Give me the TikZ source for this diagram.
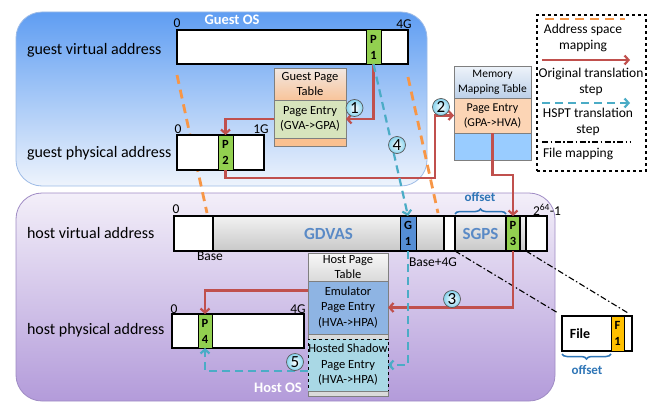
\documentclass[tikz,border=0pt]{standalone}
\usepackage{fontspec}
\setmainfont{Carlito}
\usetikzlibrary{arrows.meta,decorations.pathreplacing,calc}

\definecolor{redln}{HTML}{C0504D}
\definecolor{tealln}{HTML}{4BACC6}
\definecolor{orangeln}{HTML}{F79646}
\definecolor{pgreen}{HTML}{92D050}
\definecolor{gblue}{HTML}{558ED5}
\definecolor{gdtext}{HTML}{5A8AC6}
\definecolor{offblue}{HTML}{2E75B6}
\definecolor{fyellow}{HTML}{FFC000}
\definecolor{gosTop}{HTML}{5F9DF2}
\definecolor{gosBot}{HTML}{EEF4FC}
\definecolor{gosLine}{HTML}{9DBBE6}
\definecolor{hosTop}{HTML}{F3EFF9}
\definecolor{hosBot}{HTML}{B39BDA}
\definecolor{hosLine}{HTML}{9F8BC4}
\definecolor{peachTop}{HTML}{F2E8E2}
\definecolor{peachBot}{HTML}{F8C49A}
\definecolor{entrygreen}{HTML}{D7E4BD}
\definecolor{stripOrange}{HTML}{FAC090}
\definecolor{mmtTop}{HTML}{EEF3FA}
\definecolor{mmtBot}{HTML}{BCD0E8}
\definecolor{mmtEntry}{HTML}{FCD5B5}
\definecolor{mmtFoot}{HTML}{99CCFF}
\definecolor{hptTop}{HTML}{F7F7F7}
\definecolor{hptBot}{HTML}{DADADA}
\definecolor{emulBlue}{HTML}{8EB4E3}
\definecolor{shadowTeal}{HTML}{A9D8E5}
\definecolor{tblline}{HTML}{7F7F7F}
\definecolor{segTop}{HTML}{F2F2F2}
\definecolor{segBot}{HTML}{C8C8C8}
\definecolor{numcyan}{HTML}{86D3EE}

\begin{document}
\begin{tikzpicture}[x=1pt,y=-1pt,
  every node/.style={inner sep=0pt, outer sep=0pt},
  nw/.style 2 args={anchor=north west, minimum width=#1pt, minimum height=#2pt},
  region/.style={rounded corners=26pt, line width=0.8pt},
  ostitle/.style={text=white, font=\bfseries\fontsize{14.5}{16}\selectfont},
  barbox/.style={draw=black, line width=1.5pt, fill=white},
  greyseg/.style={draw=black, line width=1.2pt, top color=segTop, bottom color=segBot},
  pcell/.style={draw=black, line width=1pt, fill=pgreen, align=center,
    font=\bfseries\fontsize{12.5}{16}\selectfont},
  tblpart/.style={draw=tblline, line width=0.8pt, align=center,
    font=\fontsize{12.5}{15}\selectfont},
  rowlabel/.style={anchor=base west, font=\fontsize{16}{18}\selectfont},
  tick/.style={font=\fontsize{13.5}{15}\selectfont},
  stepnum/.style={circle, draw=black!65, line width=0.7pt, minimum size=17pt,
    inner color=white, outer color=numcyan, font=\fontsize{17}{17}\selectfont},
  redarrow/.style={draw=redln, line width=2.2pt,
    -{Straight Barb[length=4pt,width=9pt]}},
  tealarrow/.style={draw=tealln, line width=2.2pt, dash pattern=on 8pt off 5pt,
    -{Straight Barb[length=4pt,width=9pt]}},
  addrmap/.style={draw=orangeln, line width=2.8pt, dash pattern=on 9pt off 6pt},
  filemap/.style={draw=black, line width=1.1pt,
    dash pattern=on 6pt off 2.5pt on 1.5pt off 2.5pt},
  offsetbrace/.style={draw=offblue, line width=1.5pt, decorate,
    decoration={brace, amplitude=5pt}},
  offsetlabel/.style={text=offblue, font=\bfseries\fontsize{13}{14}\selectfont},
  legendtext/.style={align=center, font=\fontsize{13.5}{16.5}\selectfont}
]
\useasboundingbox (0,0) rectangle (652,404);

% ---------- operating system regions ----------
\node[region, nw={411}{174}, draw=gosLine, top color=gosTop, bottom color=gosBot]
  (guestos) at (16,12) {};
\node[region, nw={539}{208}, draw=hosLine, top color=hosTop, bottom color=hosBot]
  (hostos) at (16,193) {};
\node[ostitle] (guesttitle) at (232,20) {Guest OS};
\node[ostitle] (hosttitle) at (278,388) {Host OS};

% ---------- address space mappings (behind the bars) ----------
\coordinate (oga) at (177,75);
\coordinate (ogb) at (207,213);
\coordinate (oha) at (408,77);
\coordinate (ohb) at (438,213);
\draw[addrmap] (oga) -- (ogb);
\draw[addrmap] (oha) -- (ohb);

% ---------- guest virtual address ----------
\node[rowlabel] (lgva) at (27,55) {guest virtual address};
\node[barbox, nw={231}{34}] (gva) at (177,30) {};
\node[pcell, nw={15}{34}] (p1) at (366,30) {P\\1};
\node[tick] (gva0) at (177,23) {0};
\node[tick] (gva4g) at (404,24) {4G};

% ---------- guest physical address ----------
\node[rowlabel] (lgpa) at (27,157) {guest physical address};
\node[barbox, nw={87}{35}] (gpa) at (177,135) {};
\node[pcell, nw={15}{35}] (p2) at (218,135) {P\\2};
\node[tick] (gpa0) at (178,129) {0};
\node[tick] (gpa1g) at (261,129) {1G};

% ---------- host virtual address ----------
\node[rowlabel] (lhva) at (27,238) {host virtual address};
\node[barbox, nw={373}{35}] (hva) at (174,216) {};
\node[greyseg, nw={231}{35}, text=gdtext, font=\bfseries\fontsize{17}{20}\selectfont]
  (gdvas) at (213,216) {GDVAS};
\node[pcell, nw={16}{35}, fill=gblue] (g1) at (400,216) {G\\1};
\node[greyseg, nw={51}{35}, text=gdtext, font=\bfseries\fontsize{17}{20}\selectfont]
  (sgps) at (455,216) {SGPS};
\node[pcell, nw={14}{35}] (p3) at (506,216) {P\\3};
\node[greyseg, nw={6}{35}] (tail) at (520,216) {};
\draw[line width=1.5pt] (hva.north west) rectangle (hva.south east);
\node[tick] (hva0) at (176,209) {0};
\node[tick] (hvabase) at (210,256) {Base};
\node[tick] (hvabase4g) at (433,262) {Base+4G};
\node[tick] (hvatop) at (547,210) {2\textsuperscript{64}-1};
\draw[offsetbrace] ([yshift=2pt]sgps.north west) -- ([yshift=2pt]sgps.north east);
\node[offsetlabel] (offs1) at (480,197) {offset};

% ---------- host physical address ----------
\node[rowlabel] (lhpa) at (27,334) {host physical address};
\node[barbox, nw={132}{34}] (hpa) at (172,314) {};
\node[pcell, nw={14}{34}] (p4) at (198,314) {P\\4};
\node[tick] (hpa0) at (174,309) {0};
\node[tick] (hpa4g) at (298,309) {4G};

% ---------- guest page table ----------
\node[tblpart, nw={72}{32}, top color=peachTop, bottom color=peachBot]
  (gpthead) at (274,68) {Guest Page\\Table};
\node[tblpart, nw={72}{38}, fill=entrygreen] (gptentry) at (274,100) {Page Entry\\(GVA->GPA)};
\node[tblpart, nw={72}{8}, fill=stripOrange] (gptfoot) at (274,138) {};

% ---------- memory mapping table ----------
\node[tblpart, nw={77}{32}, top color=mmtTop, bottom color=mmtBot,
  font=\fontsize{11.5}{15}\selectfont] (mmthead) at (454,66) {Memory\\Mapping Table};
\node[tblpart, nw={77}{35}, fill=mmtEntry, font=\fontsize{12}{15}\selectfont]
  (mmtentry) at (454,98) {Page Entry\\(GPA->HVA)};
\node[tblpart, nw={77}{27}, fill=mmtFoot] (mmtfoot) at (454,133) {};

% ---------- host page table ----------
\node[tblpart, nw={80}{28}, top color=hptTop, bottom color=hptBot]
  (hpthead) at (308,253) {Host Page\\Table};
\node[tblpart, nw={80}{53}, fill=emulBlue, font=\fontsize{12.5}{15.5}\selectfont]
  (emul) at (308,281) {Emulator\\Page Entry\\(HVA->HPA)};
\node[tblpart, nw={80}{5}, fill=hptBot] (hptgap) at (308,334) {};
\node[tblpart, nw={80}{52}, fill=shadowTeal, draw=black, dashed, line width=1pt,
  font=\fontsize{12.5}{15.5}\selectfont]
  (hsp) at (308,339) {Hosted Shadow\\Page Entry\\(HVA->HPA)};
\node[tblpart, nw={80}{5}, fill=hptBot] (hptfoot) at (308,391) {};

% ---------- backing file ----------
\node[barbox, nw={70}{35}] (file) at (562,316) {};
\node[pcell, nw={13}{35}, fill=fyellow] (f1) at (611,316) {F\\1};
\node[font=\bfseries\fontsize{14}{15}\selectfont] (filetext) at (580,334) {File};
\draw[offsetbrace] ([yshift=-3pt]f1.south west) -- ([yshift=-3pt]file.south west);
\node[offsetlabel] (offs2) at (587,370) {offset};

% ---------- file mapping ----------
\draw[filemap] (sgps.south west) -- ([shift={(-4,-3)}]file.north west);
\draw[filemap] (tail.south east) -- ([shift={(-4,-3)}]file.north east);

% ---------- original translation steps ----------
\coordinate (c2) at (435,178);
\draw[redarrow] (p1.south) |- (gptentry.east);
\draw[redarrow] (gptentry.west) -| (p2.north);
\draw[redarrow] (p2.south) |- (c2) |- (mmtentry.west);
\draw[redarrow] (mmtentry.south) -- ++(0,42) -| (p3.north);
\draw[redarrow] (p3.south) |- (emul.east);
\draw[redarrow] ([yshift=17pt]emul.west) -| (p4.north);

% ---------- HSPT translation steps ----------
\draw[tealarrow] (p1.south) -- (g1.north);
\draw[tealarrow] (g1.south) |- (hsp.east);
\draw[tealarrow] ([yshift=-6pt]hsp.west) -| (p4.south);

% ---------- step numbers ----------
\node[stepnum] (s1) at (354.5,108) {1};
\node[stepnum] (s2) at (441,107) {2};
\node[stepnum] (s3) at (452,299) {3};
\node[stepnum] (s4) at (397,145) {4};
\node[stepnum] (s5) at (295,362) {5};

% ---------- legend ----------
\node[draw=black, line width=1.2pt, dashed, nw={109}{156}] (legend) at (537,15) {};
\coordinate (lg1a) at (545,19);
\coordinate (lg1b) at (625,19);
\coordinate (lg2a) at (542,60);
\coordinate (lg2b) at (630,60);
\coordinate (lg3a) at (542,103);
\coordinate (lg3b) at (630,103);
\coordinate (lg4a) at (542,142);
\coordinate (lg4b) at (630,142);
\draw[addrmap] (lg1a) -- (lg1b);
\node[legendtext] (lt1) at (583,38) {Address space\\mapping};
\draw[redarrow] (lg2a) -- (lg2b);
\node[legendtext] (lt2) at (591,82) {Original translation\\step};
\draw[tealarrow] (lg3a) -- (lg3b);
\node[legendtext] (lt3) at (588,122) {HSPT translation\\step};
\draw[filemap] (lg4a) -- (lg4b);
\node[legendtext, anchor=west] (lt4) at (543,154) {File mapping};
\end{tikzpicture}
\end{document}
